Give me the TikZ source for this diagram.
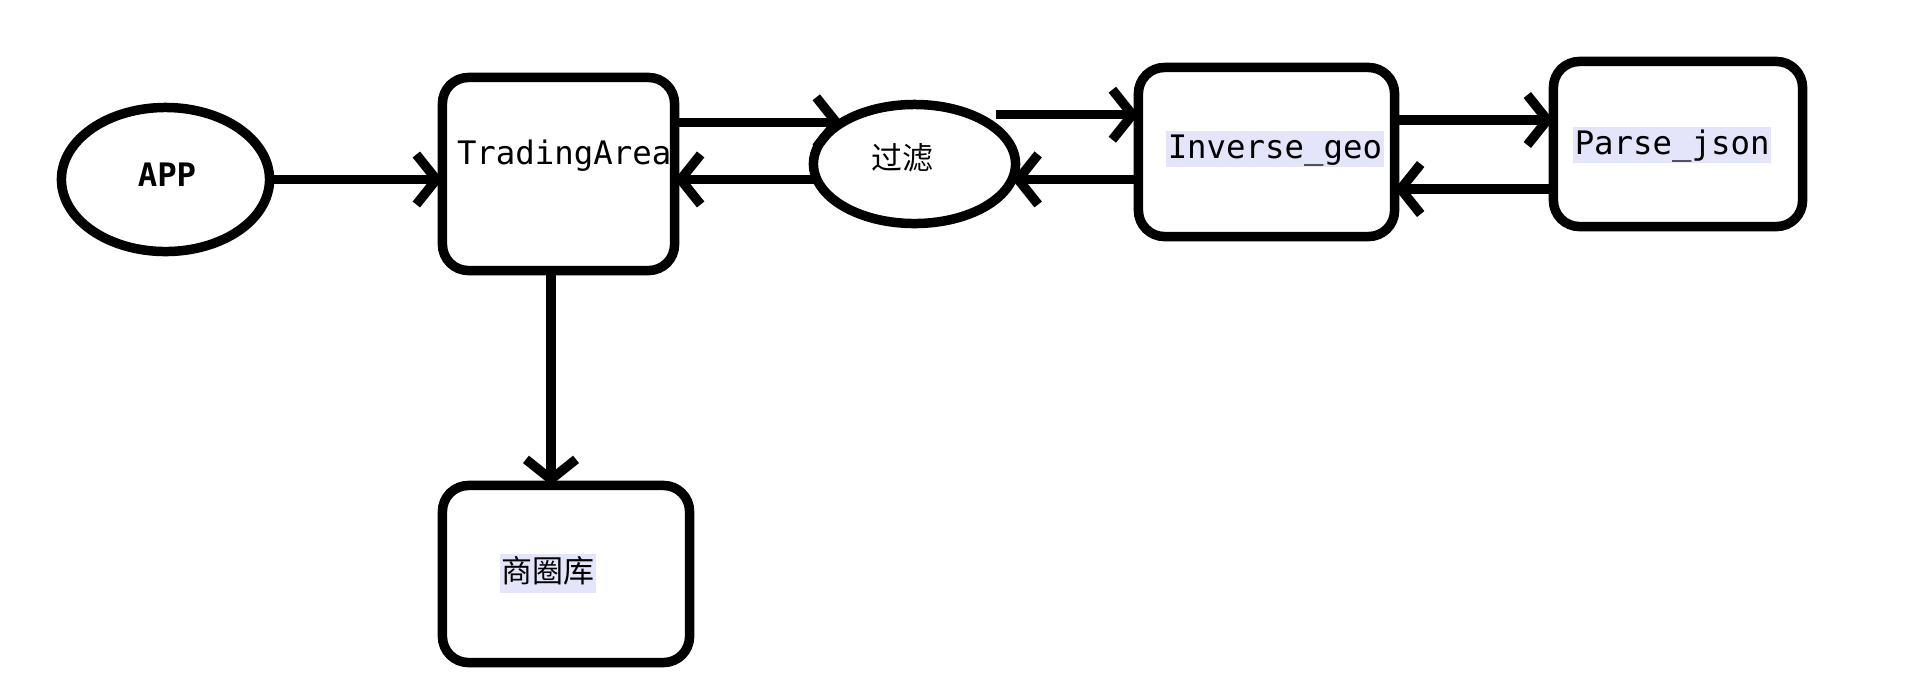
\documentclass[tikz,border=0pt]{standalone}
\usepackage{fontspec}
\setmonofont{DejaVu Sans Mono}
\newfontfamily\cjk{Noto Sans CJK SC}
\usepackage{tikz}
\usetikzlibrary{arrows.meta,positioning,shapes.geometric}
\definecolor{hlbg}{RGB}{228,228,250}
\newcommand{\mf}{\ttfamily\fontsize{9.2}{11}\selectfont}
\newcommand{\cf}{\cjk\fontsize{8.8}{11}\selectfont}

\begin{document}
\begin{tikzpicture}[x=0.01cm, y=-0.01cm, line width=2.7pt,
  every node/.style={inner sep=0pt, outer sep=0pt, font=\mf},
  oval/.style={draw, ellipse, line width=2.7pt},
  rbox/.style={draw, rounded corners=0.26cm, line width=2.7pt},
  hl/.style={fill=hlbg, inner xsep=0.5pt, inner ysep=0pt, text height=0.27cm, text depth=0.09cm},
  link/.style={-{Straight Barb[length=0.2cm,width=0.5cm]}}]
\useasboundingbox (0,0) rectangle (1908,696);
% ---- shapes
\node[oval, minimum width=2.08cm, minimum height=1.44cm] (app) at (165.5,179.5) {};
\node[rbox, minimum width=2.32cm, minimum height=1.93cm] (ta) at (558.5,174) {};
\node[oval, minimum width=2.02cm, minimum height=1.19cm] (flt) at (914.5,164) {};
\node[rbox, minimum width=2.56cm, minimum height=1.69cm] (inv) at (1266.5,152) {};
\node[rbox, minimum width=2.49cm, minimum height=1.65cm] (prs) at (1678,144) {};
\node[rbox, minimum width=2.47cm, minimum height=1.77cm] (db) at (566,574) {};
% ---- texts
\node[font=\mf\bfseries] (applbl) at (167,175) {APP};
\node[anchor=west] (talbl) at (457,156) {TradingArea};
\node[font=\cf] (fltlbl) at (902,158) {过滤};
\node[hl, anchor=west] (invlbl) at (1166,149) {Inverse\_geo};
\node[hl, anchor=west] (prslbl) at (1573,145) {Parse\_json};
\node[hl, font=\cf, anchor=west, text height=0.29cm, text depth=0.10cm] (dblbl) at (500,573) {商圈库};
% ---- connectors
\draw[link] (app.east) -- (app.east -| ta.west);
\draw[link] (ta.east |- flt.150) -- (flt.150);
\draw[link] (flt.189) -- (flt.189 -| ta.east);
\draw[link, shorten <=0.25cm] (flt.41) -- (flt.41 -| inv.west);
\draw[link] (flt.-9 -| inv.west) -- (flt.-9);
\draw[link] ([yshift=0.32cm]inv.east) -- ([yshift=0.32cm]inv.east -| prs.west);
\draw[link] ([yshift=-0.37cm]inv.east -| prs.west) -- ([yshift=-0.37cm]inv.east);
\draw[link] ([xshift=-0.075cm]ta.south) -- ([xshift=-0.075cm]ta.south |- db.north);
\end{tikzpicture}
\end{document}
